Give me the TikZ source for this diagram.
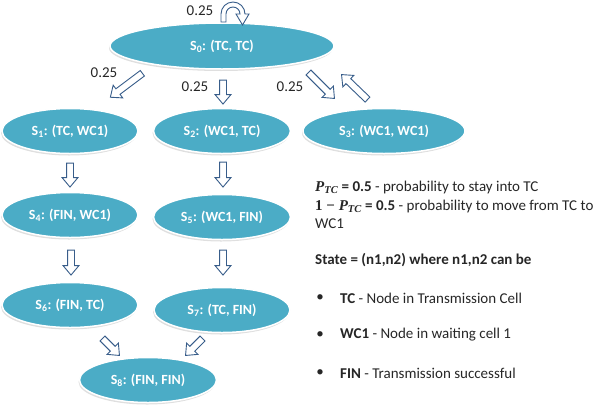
\documentclass[tikz,border=0pt]{standalone}
\usepackage{amsmath,amssymb}
\usepackage{fontspec}
\setmainfont{Carlito}
\newfontfamily\mathlike{Liberation Serif}
\usetikzlibrary{arrows.meta,calc,positioning,shapes.geometric,shapes.arrows,shadows}
\definecolor{statefill}{RGB}{75,172,198}
\definecolor{arrowline}{RGB}{56,93,138}
\definecolor{txtgray}{RGB}{38,38,38}
\newcommand{\ptc}{{\mathlike\bfseries\itshape P\textsubscript{TC}}}
\tikzset{
  state/.style={ellipse,fill=statefill,draw=white,line width=1.5pt,text=white,
    font=\bfseries\fontsize{14}{16}\selectfont,minimum height=45pt,inner sep=0pt,
    drop shadow={shadow xshift=-1pt,shadow yshift=-2pt,opacity=0.25}},
  blockarrow/.style={single arrow,draw=arrowline,fill=white,line width=0.9pt,
    inner xsep=0pt,inner ysep=3pt,single arrow head extend=4.5pt,
    single arrow tip angle=80},
  prob/.style={text=txtgray,font=\fontsize{15}{17}\selectfont,inner sep=0pt},
}
\newcommand{\hollowarrow}[2]{%
  \path let \p1=(#1), \p2=(#2), \n1={atan2(\y2-\y1,\x2-\x1)},
    \n2={veclen(\x2-\x1,\y2-\y1)} in
    node[blockarrow,rotate=\n1,minimum height=\n2] at ($(#1)!0.5!(#2)$) {};}

\begin{document}
\begin{tikzpicture}[x=1pt,y=-1pt]
  \useasboundingbox (0,0) rectangle (609,410);
  % states
  \node[state,minimum width=224pt,minimum height=46pt] (s0) at (222,46) {S\textsubscript{0}: (TC, TC)};
  \node[state,minimum width=136pt] (s1) at (70,131) {S\textsubscript{1}: (TC, WC1)};
  \node[state,minimum width=137pt] (s2) at (222,131) {S\textsubscript{2}: (WC1, TC)};
  \node[state,minimum width=162pt] (s3) at (384,131) {S\textsubscript{3}: (WC1, WC1)};
  \node[state,minimum width=136pt] (s4) at (70,215) {S\textsubscript{4}: (FIN, WC1)};
  \node[state,minimum width=137pt] (s5) at (222,217) {S\textsubscript{5}: (WC1, FIN)};
  \node[state,minimum width=136pt] (s6) at (70,305) {S\textsubscript{6}: (FIN, TC)};
  \node[state,minimum width=136pt] (s7) at (222,310) {S\textsubscript{7}: (TC, FIN)};
  \node[state,minimum width=137pt] (s8) at (148,380) {S\textsubscript{8}: (FIN, FIN)};

  % self loop on s0
  \draw[draw=arrowline,fill=white,line width=0.9pt]
    (221,22) -- (221,14) arc (180:360:12) -- (249,14) -- (242.5,25)
    -- (236,14) -- (240,14) arc (0:-180:7) -- (226,22) -- cycle;

  % arrow ends
  \coordinate (t01) at (144,72);  \coordinate (h01) at (112,96);
  \coordinate (t02) at (223,78);  \coordinate (h02) at (223,102);
  \coordinate (t03) at (307,71);  \coordinate (h03) at (333,97);
  \coordinate (t30) at (369,101); \coordinate (h30) at (343,76);
  \coordinate (t14) at (70,161);  \coordinate (h14) at (70,185);
  \coordinate (t25) at (223,160); \coordinate (h25) at (223,185);
  \coordinate (t46) at (71,248);  \coordinate (h46) at (71,273);
  \coordinate (t57) at (223,248); \coordinate (h57) at (223,273);
  \coordinate (t68) at (101,337); \coordinate (h68) at (118,354);
  \coordinate (t78) at (204,337); \coordinate (h78) at (187,354);
  \foreach \e in {01,02,03,30,14,25,46,57,68,78}
    \hollowarrow{t\e}{h\e};

  % probabilities
  \node[prob] (p01) at (104,73) {0.25};
  \node[prob] (p02) at (195,87) {0.25};
  \node[prob] (p03) at (290,87) {0.25};
  \node[prob] (p00) at (200,11) {0.25};

  % legend
  \node[prob,anchor=west] (ptc) at (315,187)
    {\ptc\ \textbf{= 0.5} - probability to stay into TC};
  \node[prob,anchor=west] (qtc) at (315,206)
    {{\mathlike\bfseries 1 − }\ptc\ \textbf{= 0.5} - probability to move from TC to};
  \node[prob,anchor=west] (wc) at (315,224) {WC1};
  \node[prob,anchor=west] (st) at (315,260) {\textbf{State = (n1,n2) where n1,n2 can be}};
  \node[prob] (b1) at (320,298) {•};
  \node[prob,anchor=west] (l1) at (340,298) {\textbf{TC} - Node in Transmission Cell};
  \node[prob] (b2) at (320,335) {•};
  \node[prob,anchor=west] (l2) at (340,335) {\textbf{WC1} - Node in waiting cell 1};
  \node[prob] (b3) at (320,373) {•};
  \node[prob,anchor=west] (l3) at (340,373) {\textbf{FIN} - Transmission successful};
\end{tikzpicture}
\end{document}
